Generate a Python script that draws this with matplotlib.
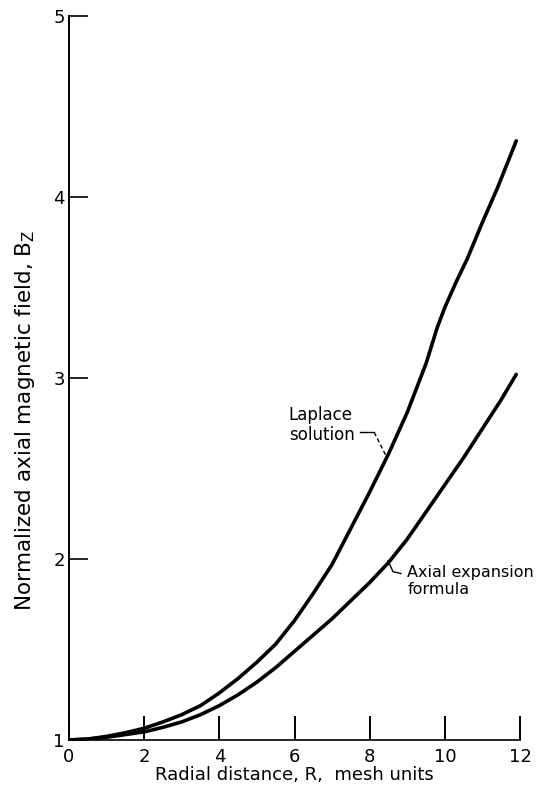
import matplotlib.pyplot as plt
import numpy as np

plt.rcParams['font.family'] = ['DejaVu Sans']

# values
laplace_r = [0, 0.5, 1, 1.5, 2, 2.5, 3, 3.5, 4, 4.5, 5, 5.5, 6, 6.5, 7, 7.5, 8, 8.5,
             9, 9.5, 9.8, 10, 10.3, 10.6, 11, 11.4, 11.9]
laplace_bz = [1.0, 1.005, 1.02, 1.04, 1.065, 1.10, 1.14, 1.19, 1.26, 1.34, 1.43, 1.53,
              1.66, 1.81, 1.97, 2.17, 2.37, 2.58, 2.81, 3.08, 3.28, 3.39, 3.53, 3.66,
              3.86, 4.05, 4.31]

axial_r = [0, 0.5, 1, 1.5, 2, 2.5, 3, 3.5, 4, 4.5, 5, 5.5, 6, 6.5, 7, 7.5, 8, 8.5,
           9, 9.5, 10, 10.5, 11, 11.5, 11.9]
axial_bz = [1.0, 1.005, 1.015, 1.03, 1.045, 1.07, 1.10, 1.14, 1.19, 1.25, 1.32, 1.40,
            1.49, 1.58, 1.67, 1.77, 1.87, 1.98, 2.11, 2.26, 2.41, 2.56, 2.72, 2.88, 3.02]

x_ticks = [0, 2, 4, 6, 8, 10, 12]
y_ticks = [1, 2, 3, 4, 5]

fig = plt.figure(figsize=(5.38, 7.94), dpi=100)
ax = fig.add_axes([69/538, 54/794, 451/538, 724/794])

ax.plot(laplace_r, laplace_bz, color='black', lw=2.6, solid_capstyle='round', solid_joinstyle='round')
ax.plot(axial_r, axial_bz, color='black', lw=2.6, solid_capstyle='round', solid_joinstyle='round')

ax.set_xlim(0, 12)
ax.set_ylim(1, 5)
ax.set_xticks(x_ticks)
ax.set_yticks(y_ticks)
ax.tick_params(axis='x', direction='in', length=17, width=1.4, pad=6, labelsize=13)
ax.tick_params(axis='y', direction='in', length=14, width=1.2, pad=3, labelsize=13)

for s in ['top', 'right']:
    ax.spines[s].set_visible(False)
ax.spines['left'].set_linewidth(1.4)
ax.spines['bottom'].set_linewidth(1.2)

ax.set_xlabel('Radial distance, R,  mesh units', fontsize=13, labelpad=0)
fig.text(25/538, 1 - 420/794, 'Normalized axial magnetic field, $\\mathregular{B_Z}$',
         rotation=90, ha='center', va='center', fontsize=15.5)

# curve labels with leaders
ax.text(5.85, 2.74, 'Laplace\nsolution', ha='left', va='center', fontsize=12, linespacing=1.15)
ax.plot([7.75, 8.12], [2.70, 2.70], color='black', lw=1)
ax.plot([8.12, 8.46], [2.70, 2.56], color='black', lw=1, ls=(0, (3, 2)))

ax.text(9.0, 1.88, 'Axial expansion\nformula', ha='left', va='center', fontsize=11.5, linespacing=1.2)
ax.plot([8.49, 8.62, 8.83], [1.99, 1.93, 1.92], color='black', lw=1)

fig.savefig('out.png', dpi=100)
